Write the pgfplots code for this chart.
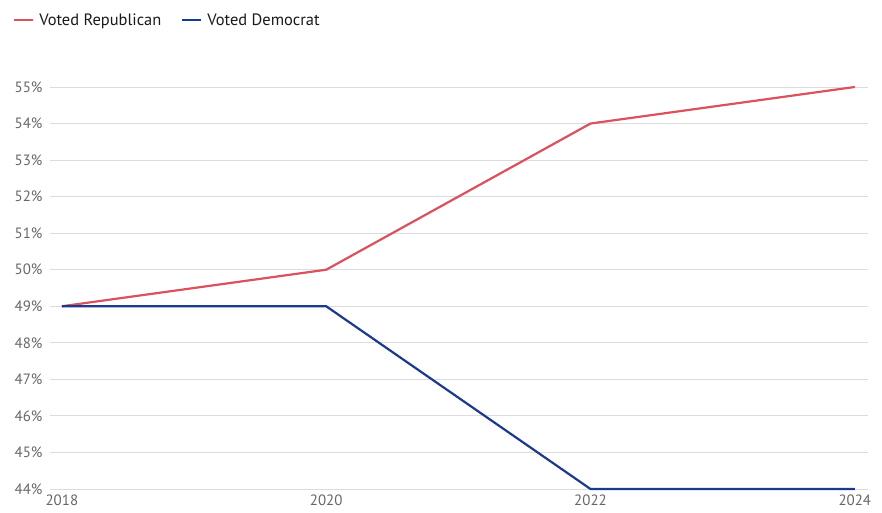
\documentclass[border=0pt]{standalone}
\usepackage{pgfplots}
\pgfplotsset{compat=1.18}
\usepackage{fontspec}
\setmainfont{PT Sans}
\definecolor{rep}{HTML}{D9525E}
\definecolor{dem}{HTML}{1B3A8C}
\definecolor{tickc}{HTML}{666666}
\definecolor{gridc}{HTML}{DCDCDC}
\begin{document}
\begin{tikzpicture}[x=1bp,y=1bp]
\useasboundingbox (0,0) rectangle (882,513);
\begin{axis}[
  at={(50bp,24bp)}, anchor=south west,
  scale only axis, width=818bp, height=402bp,
  xmin=2017.91, xmax=2024.1, ymin=44, ymax=55,
  axis line style={draw=none},
  xtick={2018,2020,2022,2024},
  ytick={44,45,...,55},
  xticklabel style={/pgf/number format/1000 sep={}},
  /pgf/number format/assume math mode=true,
  yticklabel={\pgfmathprintnumber{\tick}\%},
  tick style={draw=none},
  ymajorgrids, grid style={gridc, line width=0.9bp},
  ticklabel style={font=\fontsize{15}{16}\selectfont, text=tickc},
  yticklabel style={xshift=-4bp},
  xticklabel style={yshift=-2bp},
  clip=false,
  legend style={at={(-40bp,469bp)}, anchor=west, draw=none, fill=none,
    legend columns=2, font=\fontsize{16.5}{17}\selectfont\color[HTML]{1A1A1A},
    /tikz/every even column/.append style={column sep=15bp},
    nodes={inner xsep=5bp}},
  legend image code/.code={\draw[#1, line width=2.2bp] (0bp,0bp) -- (19bp,0bp);},
]
\addplot[rep, line width=2.2bp] coordinates {(2018,49) (2020,50) (2022,54) (2024,55)};
\addlegendentry{Voted Republican}
\addplot[dem, line width=2.2bp] coordinates {(2018,49) (2020,49) (2022,44) (2024,44)};
\addlegendentry{Voted Democrat}
\end{axis}
\end{tikzpicture}
\end{document}
